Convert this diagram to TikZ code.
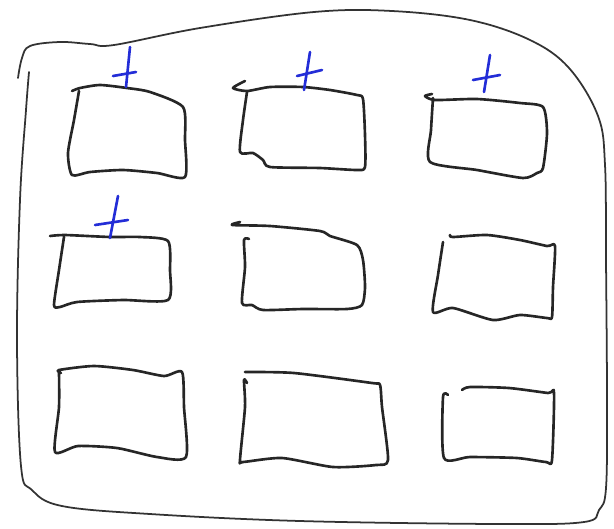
\documentclass[tikz,border=0pt]{standalone}
\usepackage{tikz}

\begin{document}
\begin{tikzpicture}[x=0.02cm, y=-0.02cm,
    frame/.style={draw=black!80, line width=1.0pt, line cap=round, line join=round},
    box/.style={draw=black!85, line width=1.5pt, line cap=round, line join=round},
    tick/.style={draw={rgb,255:red,35;green,45;blue,215}, line width=1.5pt, line cap=round}]
    \useasboundingbox (0,0) rectangle (614,528);

    % outer outline (hook at top left, then round to the bottom)
    \draw[frame] plot[smooth, tension=0.6] coordinates {
        (18,78) (22,58) (30,46) (60,42) (90,44) (114,45) (200,28) (314,12)
        (392,11) (470,20) (530,40) (569,68) (598,116) (605,165) (606,260)
        (607,400) (606,488) (599,510) (584,522) (500,524) (300,521) (150,514)
        (62,506) (32,490) (21,466) (17,340) (20,200) (26,110) (29,72)};

    % first row
    \draw[box] plot[smooth, tension=0.4] coordinates {
        (72,91) (80,88) (100,85) (127,88) (150,92) (183,107) (185,140) (185,177)
        (157,173) (123,170) (90,172) (72,175) (68,153) (74,120) (79,91)};
    \draw[box] plot[smooth, tension=0.4] coordinates {
        (245,81) (233,88) (247,91) (270,87) (303,87) (330,90) (357,95) (363,99)
        (365,135) (365,167) (357,170) (320,168) (270,167) (263,160) (253,153)
        (240,152) (243,120) (247,92)};
    \draw[box] plot[smooth, tension=0.4] coordinates {
        (432,94) (425,96) (435,100) (477,99) (520,103) (543,107) (547,133)
        (543,168) (537,173) (523,178) (477,170) (430,162) (431,130) (433,98)};

    % second row
    \draw[box] plot[smooth, tension=0.4] coordinates {
        (50,236) (65,235) (110,237) (140,237) (168,241) (170,270) (168,300)
        (123,300) (77,302) (60,307) (54,305) (59,270) (64,237)};
    \draw[box] plot[smooth, tension=0.4] coordinates {
        (240,222) (232,225) (270,226) (320,231) (330,236) (357,245) (363,260)
        (365,287) (362,305) (347,309) (303,309) (263,310) (252,305) (242,303)
        (245,267) (244,240) (249,239)};
    \draw[box] plot[smooth, tension=0.4] coordinates {
        (450,235) (453,237) (487,235) (520,240) (547,246) (555,246) (553,287)
        (552,317) (547,318) (520,315) (493,320) (453,308) (433,312) (438,275)
        (443,242)};

    % third row
    \draw[box] plot[smooth, tension=0.4] coordinates {
        (61,373) (59,370) (94,366) (133,370) (164,376) (182,372) (184,407)
        (186,457) (157,457) (117,448) (78,446) (55,452) (59,407) (59,372)};
    \draw[box] plot[smooth, tension=0.4] coordinates {
        (245,372) (294,373) (372,383) (380,385) (382,407) (388,460) (376,465)
        (333,467) (282,458) (243,462) (240,460) (245,407) (244,380) (247,383)};
    \draw[box] plot[smooth, tension=0.4] coordinates {
        (462,390) (470,387) (509,388) (548,393) (554,393) (552,460) (546,462)
        (517,458) (470,457) (444,458) (443,397) (448,395)};

    % blue marks on top of the first four boxes
    \draw[tick] (130,47) -- (126,87);
    \draw[tick] (113,76) -- (136,72);
    \draw[tick] (310,52) -- (304,90);
    \draw[tick] (297,76) -- (322,70);
    \draw[tick] (490,55) -- (484,92);
    \draw[tick] (473,80) -- (500,75);
    \draw[tick] (118,196) -- (110,238);
    \draw[tick] (95,225) -- (128,220);
\end{tikzpicture}
\end{document}
